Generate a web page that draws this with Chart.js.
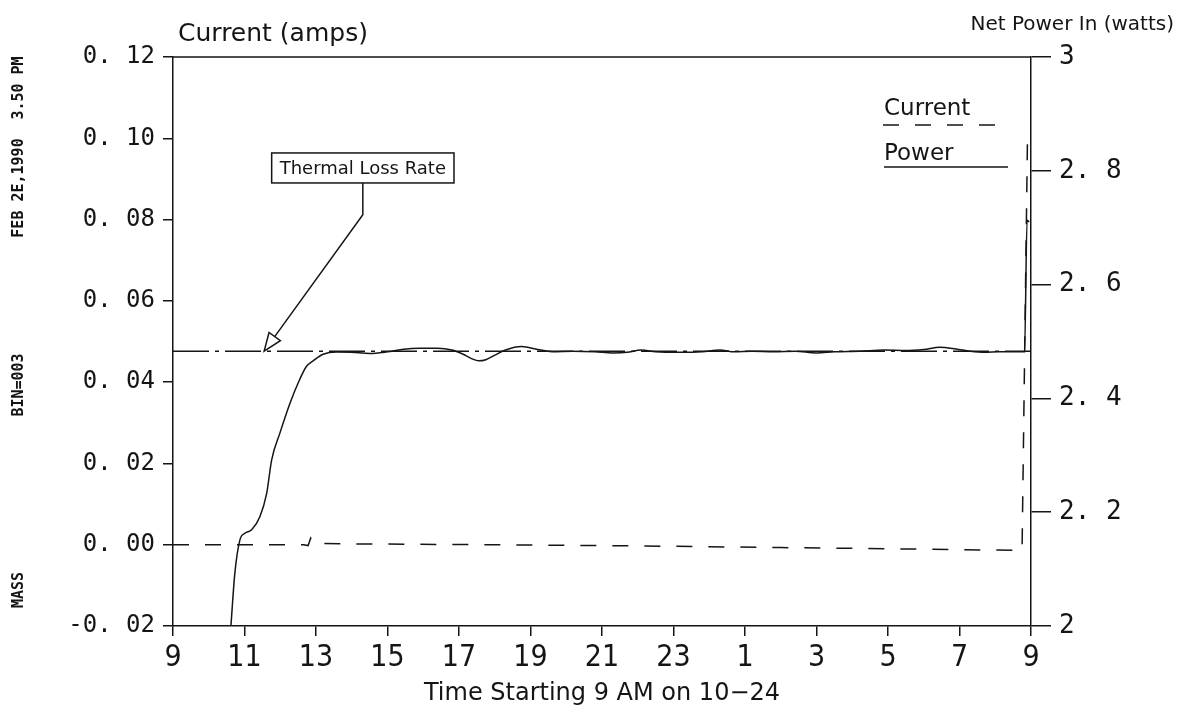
<!DOCTYPE html>
<html lang="en">
<head>
    <meta charset="UTF-8">
    <title>Current and Net Power In</title>
    <script src="https://cdn.jsdelivr.net/npm/chart.js"></script>
    <style>
        body { margin: 0; background: #fff; }
        #wrap { width: 1183px; height: 712px; position: relative; }
    </style>
</head>
<body>
<div id="wrap"><canvas id="powerChart"></canvas></div>

<script>
    // hours since midnight 10-24 (values past 24 are the next morning)
    const powerTime = [10.62, 10.73, 10.87, 11.01, 11.2, 11.43, 11.62, 11.76, 11.99, 12.27, 12.5, 12.73, 12.92,
        13.2, 13.57, 14.0, 14.5, 15.0, 15.4, 15.9, 16.4, 16.8, 17.1, 17.35, 17.55, 17.75, 18.0, 18.3, 18.75,
        19.2, 19.6, 20.2, 20.8, 21.3, 21.7, 22.1, 22.5, 23.2, 23.8, 24.3, 24.7, 25.2, 25.8, 26.4, 27.0, 27.5,
        28.2, 28.9, 29.5, 30.0, 30.45, 30.9, 31.3, 31.7, 32.1, 32.5, 32.82, 32.89, 32.95];
    const powerWatts = [2.0, 2.093, 2.151, 2.163, 2.169, 2.192, 2.233, 2.292, 2.339, 2.391, 2.427, 2.456, 2.466,
        2.4775, 2.4815, 2.481, 2.479, 2.482, 2.486, 2.488, 2.488, 2.485, 2.478, 2.470, 2.466, 2.468, 2.476, 2.485, 2.491,
        2.486, 2.482, 2.483, 2.482, 2.480, 2.481, 2.485, 2.482, 2.481, 2.482, 2.485, 2.482, 2.483, 2.482, 2.483, 2.480, 2.482,
        2.483, 2.485, 2.484, 2.486, 2.490, 2.487, 2.483, 2.481, 2.482, 2.482, 2.482, 2.713, 2.71];

    const currentTime = [9, 12.65, 12.78, 12.85, 12.92, 14, 18, 22, 26, 30, 32.75, 32.9];
    const currentAmps = [0, 0, -0.0002, 0.0016, 0.0003, 0.0002, 0, -0.0003, -0.0007, -0.0011, -0.0014, 0.099];

    const thermalLossRate = 2.483;   // watts
    const timeRange = [9, 33];

    const xTickLabels = ['9', '11', '13', '15', '17', '19', '21', '23', '1', '3', '5', '7', '9'];
    const leftTickLabels = ['-0. 02', '0. 00', '0. 02', '0. 04', '0. 06', '0. 08', '0. 10', '0. 12'];
    const rightTickLabels = ['2', '2. 2', '2. 4', '2. 6', '2. 8', '3'];

    const ink = '#151515';
    const sans = "'DejaVu Sans', sans-serif";
    const mono = "'DejaVu Sans Mono', monospace";

    // titles, side stamp, legend and the callout
    const extras = {
        id: 'extras',
        afterDraw(chart) {
            const ctx = chart.ctx;
            const a = chart.chartArea;
            const xs = chart.scales.x, ya = chart.scales.y, yw = chart.scales.y1;
            ctx.save();
            ctx.strokeStyle = ink;
            ctx.fillStyle = ink;
            ctx.lineWidth = 1.5;

            // top frame line
            ctx.beginPath();
            ctx.moveTo(a.left, a.top);
            ctx.lineTo(a.right, a.top);
            ctx.stroke();

            ctx.font = '25px ' + sans;
            ctx.textAlign = 'left';
            ctx.textBaseline = 'alphabetic';
            ctx.fillText('Current (amps)', 178, 41);

            ctx.font = '20px ' + sans;
            ctx.textAlign = 'right';
            ctx.fillText('Net Power In (watts)', 1174, 30);

            ctx.font = '24px ' + sans;
            ctx.textAlign = 'center';
            ctx.fillText('Time Starting 9 AM on 10\u221224', (a.left + a.right) / 2, 700);

            // rotated stamp on the left
            ctx.font = 'bold 15px ' + mono;
            const stamp = [['MASS', 590], ['BIN=003', 385], ['FEB 2E,1990', 188], ['3.50 PM', 88]];
            stamp.forEach(([txt, cy]) => {
                ctx.save();
                ctx.translate(19, cy);
                ctx.rotate(-Math.PI / 2);
                ctx.textAlign = 'center';
                ctx.textBaseline = 'middle';
                ctx.fillText(txt, 0, 0);
                ctx.restore();
            });

            // legend
            ctx.font = '23px ' + sans;
            ctx.textAlign = 'left';
            ctx.textBaseline = 'alphabetic';
            ctx.fillText('Current', 884, 115);
            ctx.fillText('Power', 884, 160);
            ctx.setLineDash([16, 16]);
            ctx.beginPath();
            ctx.moveTo(883, 125);
            ctx.lineTo(999, 125);
            ctx.stroke();
            ctx.setLineDash([]);
            ctx.beginPath();
            ctx.moveTo(884, 167);
            ctx.lineTo(1008, 167);
            ctx.stroke();

            // Thermal Loss Rate callout
            const bx = xs.getPixelForValue(14.31), by = ya.getPixelForValue(0.0927);
            ctx.font = '18px ' + sans;
            const tw = ctx.measureText('Thermal Loss Rate').width;
            ctx.strokeRect(bx - tw / 2 - 8, by - 15, tw + 16, 30);
            ctx.textAlign = 'center';
            ctx.textBaseline = 'middle';
            ctx.fillText('Thermal Loss Rate', bx, by + 1);

            const ey = ya.getPixelForValue(0.0812);
            const tx = xs.getPixelForValue(11.55), ty = yw.getPixelForValue(thermalLossRate);
            const dx = tx - bx, dy = ty - ey, len = Math.hypot(dx, dy);
            const ux = dx / len, uy = dy / len;
            const hl = 18, hw = 7;
            const cx = tx - ux * hl, cy = ty - uy * hl;
            ctx.beginPath();
            ctx.moveTo(bx, by + 15);
            ctx.lineTo(bx, ey);
            ctx.lineTo(cx, cy);
            ctx.stroke();
            ctx.beginPath();
            ctx.moveTo(tx, ty);
            ctx.lineTo(cx + uy * hw, cy - ux * hw);
            ctx.lineTo(cx - uy * hw, cy + ux * hw);
            ctx.closePath();
            ctx.fillStyle = '#fff';
            ctx.fill();
            ctx.stroke();
            ctx.restore();
        }
    };

    new Chart(document.getElementById('powerChart'), {
        type: 'line',
        data: {
            datasets: [{
                label: 'Power',
                data: powerTime.map((t, i) => ({ x: t, y: powerWatts[i] })),
                yAxisID: 'y1',
                borderColor: ink,
                borderWidth: 1.5,
                pointRadius: 0,
                cubicInterpolationMode: 'monotone'
            }, {
                label: 'Current',
                data: currentTime.map((t, i) => ({ x: t, y: currentAmps[i] })),
                yAxisID: 'y',
                borderColor: ink,
                borderWidth: 1.5,
                borderDash: [16, 16],
                pointRadius: 0,
                tension: 0
            }, {
                label: 'Thermal Loss Rate',
                data: timeRange.map(t => ({ x: t, y: thermalLossRate })),
                yAxisID: 'y1',
                borderColor: ink,
                borderWidth: 1.5,
                borderDash: [36, 6, 4, 6],
                pointRadius: 0
            }]
        },
        options: {
            responsive: true,
            maintainAspectRatio: false,
            animation: false,
            layout: { padding: { top: 57, left: 0, right: 0, bottom: 0 } },
            plugins: { legend: { display: false }, tooltip: { enabled: false } },
            scales: {
                x: {
                    type: 'linear',
                    min: timeRange[0],
                    max: timeRange[1],
                    afterFit(scale) { scale.height = 86; },
                    ticks: {
                        stepSize: 2,
                        color: ink,
                        padding: 4,
                        maxRotation: 0,
                        font: { family: "'Liberation Sans Narrow', 'DejaVu Sans Condensed', sans-serif", size: 30 },
                        callback: (v, i) => xTickLabels[i]
                    },
                    grid: { drawOnChartArea: false, tickLength: 10, color: ink, lineWidth: 1.5 },
                    border: { color: ink, width: 1.5 }
                },
                y: {
                    position: 'left',
                    min: -0.02,
                    max: 0.12,
                    afterFit(scale) { scale.width = 173; },
                    ticks: {
                        stepSize: 0.02,
                        color: ink,
                        padding: 8,
                        font: { family: mono, size: 24 },
                        callback: (v, i) => leftTickLabels[i]
                    },
                    grid: { drawOnChartArea: false, tickLength: 10, color: ink, lineWidth: 1.5 },
                    border: { color: ink, width: 1.5 }
                },
                y1: {
                    position: 'right',
                    min: 2,
                    max: 3,
                    afterFit(scale) { scale.width = 152; },
                    ticks: {
                        stepSize: 0.2,
                        color: ink,
                        padding: 8,
                        font: { family: mono, size: 26 },
                        callback: (v, i) => rightTickLabels[i]
                    },
                    grid: { drawOnChartArea: false, tickLength: 20, color: ink, lineWidth: 1.5 },
                    border: { color: ink, width: 1.5 }
                }
            }
        },
        plugins: [extras]
    });
</script>
</body>
</html>
